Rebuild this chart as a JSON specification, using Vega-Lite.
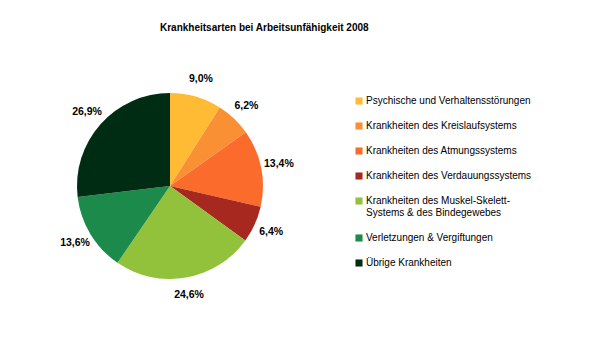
{
  "$schema": "https://vega.github.io/schema/vega-lite/v6.json",
  "width": 340,
  "height": 340,
  "autosize": {"type": "none"},
  "padding": {"left": 0, "top": 16, "right": 260, "bottom": 1},
  "background": "white",
  "title": {
    "text": "Krankheitsarten bei Arbeitsunfähigkeit 2008",
    "anchor": "start",
    "frame": "group",
    "dx": 160,
    "dy": 17,
    "offset": 0,
    "font": "Liberation Sans",
    "fontSize": 10,
    "fontWeight": "bold",
    "color": "black"
  },
  "data": {
    "values": [
      {"nr": 1, "krankheit": "Psychische und Verhaltensstörungen", "anteil": 9.0, "label": "9,0%"},
      {"nr": 2, "krankheit": "Krankheiten des Kreislaufsystems", "anteil": 6.2, "label": "6,2%"},
      {"nr": 3, "krankheit": "Krankheiten des Atmungssystems", "anteil": 13.4, "label": "13,4%"},
      {"nr": 4, "krankheit": "Krankheiten des Verdauungssystems", "anteil": 6.4, "label": "6,4%"},
      {"nr": 5, "krankheit": "Krankheiten des Muskel-Skelett-Systems & des Bindegewebes", "anteil": 24.6, "label": "24,6%"},
      {"nr": 6, "krankheit": "Verletzungen & Vergiftungen", "anteil": 13.6, "label": "13,6%"},
      {"nr": 7, "krankheit": "Übrige Krankheiten", "anteil": 26.9, "label": "26,9%"}
    ]
  },
  "encoding": {
    "theta": {"field": "anteil", "type": "quantitative", "stack": true},
    "order": {"field": "nr", "type": "quantitative"}
  },
  "layer": [
    {
      "mark": {"type": "arc", "outerRadius": 93},
      "encoding": {
        "color": {
          "field": "krankheit",
          "type": "nominal",
          "scale": {
            "domain": [
              "Psychische und Verhaltensstörungen",
              "Krankheiten des Kreislaufsystems",
              "Krankheiten des Atmungssystems",
              "Krankheiten des Verdauungssystems",
              "Krankheiten des Muskel-Skelett-Systems & des Bindegewebes",
              "Verletzungen & Vergiftungen",
              "Übrige Krankheiten"
            ],
            "range": ["#FEBB33", "#F99134", "#FB6B2B", "#A7281E", "#92C23C", "#1B8A4A", "#012C14"]
          },
          "legend": {
            "orient": "none",
            "legendX": 354,
            "legendY": 80,
            "title": null,
            "symbolType": "square",
            "symbolSize": 50,
            "symbolStrokeWidth": 0,
            "labelFont": "Liberation Sans",
            "labelFontSize": 10,
            "labelColor": "black",
            "labelOffset": 2,
            "labelLimit": 300,
            "rowPadding": 15,
            "labelExpr": "datum.label == 'Krankheiten des Muskel-Skelett-Systems & des Bindegewebes' ? ['Krankheiten des Muskel-Skelett-', 'Systems & des Bindegewebes'] : datum.label"
          }
        }
      }
    },
    {
      "mark": {
        "type": "text",
        "radius": 111,
        "font": "Liberation Sans",
        "fontSize": 10.5,
        "fontWeight": "bold",
        "color": "black"
      },
      "encoding": {
        "text": {"field": "label", "type": "nominal"}
      }
    }
  ]
}
